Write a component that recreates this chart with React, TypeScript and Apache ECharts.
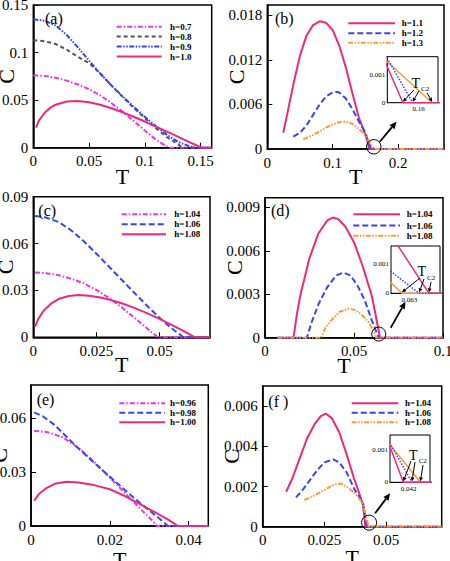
import React, { useEffect, useRef } from "react";
import * as echarts from "echarts";

// ---------- colours ----------
const PINK = "#f0287a";
const MAGENTA = "#ee33ee";
const BLUE = "#3344ff";
const GRAY = "#555555";
const ORANGE = "#ff9933";

// ---------- panel (a) ----------
const aXTicks = [0, 0.05, 0.1, 0.15];
const aYTicks = [0, 0.05, 0.1, 0.15];
const aH07 = [[0,0.076],[0.01,0.0755],[0.02,0.0735],[0.03,0.0705],[0.04,0.0665],[0.05,0.0615],[0.06,0.055],[0.07,0.047],[0.08,0.038],[0.09,0.028],[0.1,0.018],[0.11,0.0085],[0.12,0.001],[0.122,0],[0.16,0]];
const aH08 = [[0,0.113],[0.01,0.112],[0.02,0.109],[0.03,0.103],[0.04,0.0955],[0.05,0.089],[0.06,0.078],[0.07,0.0655],[0.08,0.0535],[0.09,0.042],[0.1,0.031],[0.11,0.0205],[0.12,0.011],[0.13,0.0035],[0.1335,0],[0.16,0]];
const aH09 = [[0,0.135],[0.01,0.1335],[0.02,0.1285],[0.03,0.1185],[0.04,0.1055],[0.05,0.0915],[0.06,0.078],[0.07,0.0655],[0.08,0.054],[0.09,0.043],[0.1,0.0325],[0.11,0.0225],[0.12,0.0135],[0.13,0.006],[0.14,0.0015],[0.1455,0],[0.16,0]];
const aH10 = [[0.0025,0.021],[0.005,0.0285],[0.01,0.0365],[0.015,0.0418],[0.02,0.0452],[0.03,0.0485],[0.04,0.049],[0.05,0.0478],[0.06,0.0452],[0.07,0.0415],[0.08,0.0372],[0.09,0.0325],[0.1,0.0275],[0.11,0.0222],[0.12,0.0168],[0.13,0.0113],[0.14,0.0058],[0.15,0.0005],[0.151,0],[0.16,0]];

// ---------- panel (b) ----------
const bXTicks = [0, 0.1, 0.2];
const bYTicks = [0, 0.006, 0.012, 0.018];
const bH11 = [[0.0244,0.0022],[0.03,0.0045],[0.04,0.0088],[0.05,0.0126],[0.06,0.0153],[0.07,0.0167],[0.08,0.0172],[0.09,0.017],[0.1,0.016],[0.11,0.0139],[0.12,0.011],[0.13,0.0075],[0.14,0.0042],[0.15,0.0019],[0.152,0.0013],[0.156,0],[0.27,0]];
const bH12 = [[0.0397,0.00166],[0.05,0.0022],[0.06,0.0032],[0.07,0.0046],[0.08,0.006],[0.09,0.0071],[0.1,0.0076],[0.105,0.0077],[0.11,0.0076],[0.12,0.0068],[0.13,0.0054],[0.14,0.0037],[0.15,0.0022],[0.152,0.0016],[0.1585,0],[0.27,0]];
const bH13 = [[0.055,0.00135],[0.06,0.0015],[0.07,0.0019],[0.08,0.0024],[0.09,0.0029],[0.1,0.0033],[0.11,0.0036],[0.12,0.0037],[0.13,0.0034],[0.14,0.0027],[0.15,0.0018],[0.152,0.00148],[0.1635,0],[0.27,0]];
const bInsetXTicks = [0.16];
const bInsetYTicks = [0, 0.001];

// ---------- panel (c) ----------
const cXTicks = [0, 0.025, 0.05];
const cYTicks = [0, 0.03, 0.06, 0.09];
const cH104 = [[0.0007,0.0415],[0.005,0.041],[0.01,0.0397],[0.015,0.0375],[0.02,0.0345],[0.025,0.0303],[0.03,0.0252],[0.035,0.0192],[0.04,0.0125],[0.045,0.0058],[0.049,0.0005],[0.0495,0],[0.07,0]];
const cH106 = [[0.0007,0.0776],[0.005,0.0767],[0.01,0.0738],[0.015,0.0685],[0.02,0.0615],[0.025,0.0535],[0.03,0.0452],[0.035,0.0368],[0.04,0.0285],[0.045,0.0203],[0.05,0.0125],[0.055,0.0055],[0.0595,0],[0.07,0]];
const cH108 = [[0.0007,0.0069],[0.002,0.0118],[0.004,0.0168],[0.007,0.0215],[0.01,0.0245],[0.014,0.0264],[0.018,0.027],[0.022,0.0266],[0.026,0.0256],[0.03,0.0242],[0.035,0.0218],[0.04,0.0188],[0.045,0.0155],[0.05,0.0118],[0.055,0.0078],[0.06,0.0037],[0.064,0],[0.07,0]];

// ---------- panel (d) ----------
const dXTicks = [0, 0.05, 0.1];
const dYTicks = [0, 0.003, 0.006, 0.009];
const dH104 = [[0.007,0],[0.016,0],[0.018,0.0017],[0.02,0.003],[0.025,0.0055],[0.03,0.0072],[0.035,0.0081],[0.038,0.0083],[0.041,0.0082],[0.045,0.0077],[0.05,0.0066],[0.055,0.0049],[0.06,0.0029],[0.0621,0.0016],[0.0646,0],[0.1,0]];
const dH106 = [[0.007,0],[0.0235,0],[0.026,0.001],[0.03,0.0023],[0.035,0.0035],[0.04,0.0043],[0.044,0.0045],[0.048,0.0043],[0.052,0.0036],[0.056,0.0026],[0.06,0.0012],[0.0615,0.00074],[0.0638,0],[0.1,0]];
const dH108 = [[0.007,0],[0.0316,0],[0.034,0.0007],[0.038,0.0013],[0.042,0.0018],[0.047,0.002],[0.051,0.0019],[0.055,0.0015],[0.058,0.0011],[0.0615,0.00036],[0.0624,0],[0.1,0]];
const dInsetXTicks = [0.063];
const dInsetYTicks = [0, 0.001];

// ---------- panel (e) ----------
const eXTicks = [0, 0.02, 0.04];
const eYTicks = [0, 0.03, 0.06];
const eH096 = [[0.0008,0.053],[0.004,0.0524],[0.008,0.0495],[0.012,0.0437],[0.016,0.0358],[0.02,0.027],[0.024,0.018],[0.028,0.009],[0.031,0.0025],[0.032,0],[0.045,0]];
const eH098 = [[0.0008,0.0633],[0.003,0.0612],[0.006,0.0563],[0.009,0.0498],[0.012,0.0433],[0.016,0.0353],[0.02,0.0275],[0.024,0.0197],[0.028,0.0122],[0.032,0.0052],[0.0348,0],[0.045,0]];
const eH100 = [[0.0008,0.0141],[0.002,0.0178],[0.004,0.0213],[0.006,0.0235],[0.009,0.0247],[0.012,0.0243],[0.016,0.0228],[0.02,0.0205],[0.024,0.0165],[0.028,0.0118],[0.032,0.007],[0.035,0.0033],[0.0373,0],[0.045,0]];

// ---------- panel (f) ----------
const fXTicks = [0, 0.025, 0.05];
const fYTicks = [0, 0.002, 0.004, 0.006];
const fH104 = [[0.0095,0.00174],[0.012,0.0024],[0.015,0.0034],[0.018,0.0044],[0.021,0.0051],[0.0235,0.0055],[0.0255,0.00563],[0.028,0.0054],[0.031,0.0047],[0.034,0.0036],[0.037,0.0024],[0.039,0.0017],[0.0406,0.0011],[0.0416,0],[0.0725,0]];
const fH106 = [[0.0135,0.00146],[0.016,0.0018],[0.019,0.0023],[0.022,0.0028],[0.025,0.0032],[0.0285,0.00335],[0.031,0.0032],[0.034,0.0027],[0.037,0.0019],[0.0406,0.0012],[0.04225,0],[0.0725,0]];
const fH108 = [[0.0169,0.00133],[0.02,0.0015],[0.023,0.0017],[0.026,0.0019],[0.029,0.0021],[0.0315,0.00215],[0.034,0.002],[0.037,0.0017],[0.0406,0.00116],[0.04288,0],[0.0725,0]];
const fInsetXTicks = [0.042];
const fInsetYTicks = [0, 0.001];

// zero-crossing points marked by the T_C2 arrows in the insets
const bZeros = [0.156, 0.1585, 0.1635];
const dZeros = [0.0624, 0.0638, 0.0646];
const fZeros = [0.0416, 0.04225, 0.04288];
// circled points in main panels
const bCircle = [0.1627, 0.0003];
const dCircle = [0.0639, 0.00025];
const fCircle = [0.0431, 0.0002];

const SERIF = "Liberation Serif";

const DASHDOT = [5, 2, 1.5, 2];
const DASH = [4, 3];
const LONGDASH = [6, 3];
const DASHDOTDOT = [5, 1.5, 1.5, 1.5, 1.5, 1.5];
const DOT = [1.5, 1.5];

export default function App() {
  const ref = useRef<HTMLDivElement>(null);
  useEffect(() => {
    const chart = echarts.init(ref.current!, null, { renderer: "svg" });

    const grids = [
      { left: 33.3, top: 5, width: 178.4, height: 142.7 },
      { left: 267.3, top: 5, width: 176.7, height: 144 },
      { left: 33.3, top: 196.7, width: 176.7, height: 140.6 },
      { left: 265, top: 197.7, width: 178, height: 140 },
      { left: 31, top: 385, width: 177.3, height: 141 },
      { left: 262.7, top: 386, width: 179, height: 140.7 },
      { left: 387.3, top: 56.7, width: 50.7, height: 46 },
      { left: 391, top: 246, width: 49, height: 47.3 },
      { left: 390, top: 435, width: 40, height: 47.3 },
    ];

    const mainX = (g: number, min: number, max: number, ticks: number[], gap: number, extra: any = {}) => ({
      type: "value", gridIndex: g, min, max,
      axisLine: { show: true, onZero: false, lineStyle: { color: "#000", width: 1.5 } },
      axisTick: { show: true, inside: true, length: 5, customValues: ticks, lineStyle: { color: "#000", width: 1 } },
      axisLabel: { customValues: ticks, fontFamily: SERIF, fontSize: 15, color: "#000", margin: 6, ...(extra.label || {}) },
      splitLine: { show: false },
      name: "T", nameLocation: "middle", nameGap: gap, nameMoveOverlap: false,
      nameTextStyle: { fontFamily: SERIF, fontSize: 22, color: "#000", ...(extra.name || {}) },
    });
    const mainY = (g: number, min: number, max: number, ticks: number[], gap: number) => ({
      type: "value", gridIndex: g, min, max,
      axisLine: { show: true, onZero: false, lineStyle: { color: "#000", width: 1.5 } },
      axisTick: { show: true, inside: true, length: 5, customValues: ticks, lineStyle: { color: "#000", width: 1 } },
      axisLabel: { customValues: ticks, fontFamily: SERIF, fontSize: 15, color: "#000", margin: 5 },
      splitLine: { show: false },
      name: "C", nameLocation: "middle", nameGap: gap, nameRotate: 90, nameMoveOverlap: false,
      nameTextStyle: { fontFamily: SERIF, fontSize: 22, color: "#000" },
    });
    const insX = (g: number, min: number, max: number, ticks: number[]) => ({
      type: "value", gridIndex: g, min, max,
      axisLine: { show: true, onZero: false, lineStyle: { color: "#000", width: 1 } },
      axisTick: { show: true, inside: true, length: 3, customValues: ticks, lineStyle: { color: "#000", width: 0.8 } },
      axisLabel: { customValues: ticks, fontFamily: SERIF, fontSize: 7, color: "#000", margin: 3 },
      splitLine: { show: false },
    });
    const insY = (g: number, min: number, max: number, ticks: number[]) => ({
      type: "value", gridIndex: g, min, max,
      axisLine: { show: true, onZero: false, lineStyle: { color: "#000", width: 1 } },
      axisTick: { show: true, inside: true, length: 3, customValues: ticks, lineStyle: { color: "#000", width: 0.8 } },
      axisLabel: { customValues: ticks, fontFamily: SERIF, fontSize: 7, color: "#000", margin: 2 },
      splitLine: { show: false },
    });

    const line = (name: string, g: number, data: number[][], color: string, type: any, width = 2) => ({
      type: "line", name, xAxisIndex: g, yAxisIndex: g, data,
      showSymbol: false, symbol: "none", silent: true,
      lineStyle: { color, width, type },
      z: 3,
    });

    const option: any = {
      animation: false,
      textStyle: { fontFamily: SERIF },
      grid: grids.map((g, i) => ({
        ...g, containLabel: false, outerBoundsMode: "none", show: true,
        borderColor: "#000", borderWidth: i < 6 ? 1.5 : 1,
        backgroundColor: i < 6 ? "transparent" : "#fff",
        z: i < 6 ? 0 : 5,
      })),
      xAxis: [
        mainX(0, 0, 0.16, aXTicks, 18),
        mainX(1, 0, 0.27, bXTicks, 16),
        mainX(2, 0, 0.07, cXTicks, 16),
        mainX(3, 0, 0.1, dXTicks, 20, { label: { lineHeight: 12, margin: 7.5 }, name: { lineHeight: 16, padding: [0, 20, 0, 0] } }),
        mainX(4, 0, 0.045, eXTicks, 22),
        mainX(5, 0, 0.0725, fXTicks, 20),
        insX(6, 0.152, 0.165, bInsetXTicks),
        insX(7, 0.0615, 0.0655, dInsetXTicks),
        insX(8, 0.0406, 0.0436, fInsetXTicks),
      ],
      yAxis: [
        mainY(0, 0, 0.15, aYTicks, 16),
        mainY(1, 0, 0.0194, bYTicks, 19.5),
        mainY(2, 0, 0.09, cYTicks, 17),
        mainY(3, 0, 0.00967, dYTicks, 19.7),
        mainY(4, 0, 0.0786, eYTicks, 20.5),
        mainY(5, 0, 0.007, fYTicks, 20.4),
        insY(6, 0, 0.00166, bInsetYTicks),
        insY(7, 0, 0.00161, dInsetYTicks),
        insY(8, 0, 0.00146, fInsetYTicks),
      ],
      series: [
        line("a h=0.7", 0, aH07, MAGENTA, DASHDOT),
        line("a h=0.8", 0, aH08, GRAY, DASH),
        line("a h=0.9", 0, aH09, BLUE, DASHDOTDOT),
        line("a h=1.0", 0, aH10, PINK, "solid"),
        line("b h=1.1", 1, bH11, PINK, "solid"),
        line("b h=1.2", 1, bH12, BLUE, LONGDASH),
        line("b h=1.3", 1, bH13, ORANGE, DASHDOTDOT),
        line("c h=1.04", 2, cH104, MAGENTA, DASHDOT),
        line("c h=1.06", 2, cH106, BLUE, LONGDASH),
        line("c h=1.08", 2, cH108, PINK, "solid"),
        line("d h=1.04", 3, dH104, PINK, "solid"),
        line("d h=1.06", 3, dH106, BLUE, LONGDASH),
        line("d h=1.08", 3, dH108, ORANGE, DASHDOTDOT),
        line("e h=0.96", 4, eH096, MAGENTA, DASHDOT),
        line("e h=0.98", 4, eH098, BLUE, LONGDASH),
        line("e h=1.00", 4, eH100, PINK, "solid"),
        line("f h=1.04", 5, fH104, PINK, "solid"),
        line("f h=1.06", 5, fH106, BLUE, LONGDASH),
        line("f h=1.08", 5, fH108, ORANGE, DASHDOTDOT),
        { ...line("bi h=1.3", 6, bH13, ORANGE, "solid", 1.5), z: 6 },
        { ...line("bi h=1.2", 6, bH12, BLUE, DOT, 1.5), z: 6 },
        { ...line("bi h=1.1", 6, bH11, PINK, "solid", 1.5), z: 6 },
        { ...line("di h=1.08", 7, dH108, ORANGE, "solid", 1.5), z: 6 },
        { ...line("di h=1.06", 7, dH106, BLUE, DOT, 1.5), z: 6 },
        { ...line("di h=1.04", 7, dH104, PINK, "solid", 1.5), z: 6 },
        { ...line("fi h=1.08", 8, fH108, ORANGE, "solid", 1.5), z: 6 },
        { ...line("fi h=1.06", 8, fH106, BLUE, DOT, 1.5), z: 6 },
        { ...line("fi h=1.04", 8, fH104, PINK, "solid", 1.5), z: 6 },
      ],
    };
    chart.setOption(option);

    // ---------- annotations ----------
    const g: any[] = [];
    const legendItem = (x1: number, x2: number, tx: number, y: number, color: string, dash: any, label: string) => {
      g.push({ type: "line", z: 10, shape: { x1, y1: y, x2, y2: y }, style: { stroke: color, lineWidth: 2, lineDash: dash } });
      g.push({ type: "text", z: 10, style: { text: label, x: tx, y, fill: "#000", fontFamily: SERIF, fontSize: 9, fontWeight: "bold", verticalAlign: "middle", align: "left" } });
    };
    legendItem(116.7, 161.7, 170, 26.7, MAGENTA, DASHDOT, "h=0.7");
    legendItem(116.7, 161.7, 170, 36.5, GRAY, DASH, "h=0.8");
    legendItem(116.7, 161.7, 170, 46.5, BLUE, DASHDOTDOT, "h=0.9");
    legendItem(116.7, 161.7, 170, 56.5, PINK, null, "h=1.0");

    legendItem(348.3, 395, 401.7, 23.3, PINK, null, "h=1.1");
    legendItem(348.3, 395, 401.7, 33.3, BLUE, LONGDASH, "h=1.2");
    legendItem(348.3, 395, 401.7, 42.7, ORANGE, DASHDOTDOT, "h=1.3");

    legendItem(121.7, 166, 174.3, 214.3, MAGENTA, DASHDOT, "h=1.04");
    legendItem(121.7, 166, 174.3, 224.3, BLUE, LONGDASH, "h=1.06");
    legendItem(121.7, 166, 174.3, 234.3, PINK, null, "h=1.08");

    legendItem(353.3, 400, 406.7, 214.3, PINK, null, "h=1.04");
    legendItem(353.3, 400, 406.7, 225.5, BLUE, LONGDASH, "h=1.06");
    legendItem(353.3, 400, 406.7, 235.7, ORANGE, DASHDOTDOT, "h=1.08");

    legendItem(119.3, 165, 170, 403.3, MAGENTA, DASHDOT, "h=0.96");
    legendItem(119.3, 165, 170, 412.7, BLUE, LONGDASH, "h=0.98");
    legendItem(119.3, 165, 170, 422.3, PINK, null, "h=1.00");

    legendItem(351.7, 398.3, 405, 403.3, PINK, null, "h=1.04");
    legendItem(351.7, 398.3, 405, 412.7, BLUE, LONGDASH, "h=1.06");
    legendItem(351.7, 398.3, 405, 422.3, ORANGE, DASHDOTDOT, "h=1.08");

    const panelLabel = (x: number, y: number, t: string) =>
      g.push({ type: "text", z: 10, style: { text: t, x, y, fill: "#000", fontFamily: SERIF, fontSize: 16, verticalAlign: "middle", align: "left" } });
    panelLabel(45, 18, "(a)");
    panelLabel(275, 18.3, "(b)");
    panelLabel(38.3, 210.7, "(c)");
    panelLabel(271, 210, "(d)");
    panelLabel(36.7, 399, "(e)");
    panelLabel(268.3, 401, "(f )");

    const arrow = (x1: number, y1: number, x2: number, y2: number, lw: number, hl: number, hw: number) => {
      const dx = x2 - x1, dy = y2 - y1;
      const L = Math.hypot(dx, dy) || 1;
      const ux = dx / L, uy = dy / L;
      const bx = x2 - ux * hl, by = y2 - uy * hl;
      g.push({ type: "line", z: 12, shape: { x1, y1, x2: bx, y2: by }, style: { stroke: "#000", lineWidth: lw } });
      g.push({ type: "polygon", z: 12, shape: { points: [[x2, y2], [bx - uy * hw, by + ux * hw], [bx + uy * hw, by - ux * hw]] }, style: { fill: "#000" } });
    };
    const px = (gi: number, p: number[]) => chart.convertToPixel({ gridIndex: gi } as any, p) as unknown as number[];

    const bigAnnot = (gi: number, c: number[], r: number, off1: number[], off2: number[]) => {
      const p = px(gi, c);
      g.push({ type: "circle", z: 11, shape: { cx: p[0], cy: p[1], r }, style: { fill: "none", stroke: "#000", lineWidth: 1 } });
      arrow(p[0] + off1[0], p[1] + off1[1], p[0] + off2[0], p[1] + off2[1], 1.8, 7, 3.2);
    };
    bigAnnot(1, bCircle, 7.2, [6, -5], [22.7, -25]);
    bigAnnot(3, dCircle, 7, [12, -6.3], [26.7, -32.3]);
    bigAnnot(5, fCircle, 7.5, [6, -9.4], [21, -29.4]);

    const tc2 = (tx: number, ty: number, gi: number, zeros: number[], starts: number[][]) => {
      g.push({ type: "text", z: 12, style: { text: "T", x: tx, y: ty, fill: "#000", fontFamily: SERIF, fontSize: 14, align: "center", verticalAlign: "middle" } });
      g.push({ type: "text", z: 12, style: { text: "C2", x: tx + 9.5, y: ty + 6, fill: "#000", fontFamily: SERIF, fontSize: 7, align: "center", verticalAlign: "middle" } });
      zeros.forEach((z, i) => {
        const p = px(gi, [z, 0]);
        arrow(starts[i][0], starts[i][1], p[0], p[1] - 1, 1, 4, 2);
      });
    };
    tc2(415.7, 83.3, 6, bZeros, [[414, 90], [419, 91], [427, 93]]);
    tc2(421.7, 271.7, 7, dZeros, [[420, 278], [424, 279], [431, 282]]);
    tc2(413.3, 455, 8, fZeros, [[411, 461], [415, 462], [423, 465]]);

    chart.setOption({ graphic: g });
    return () => chart.dispose();
  }, []);
  return <div ref={ref} style={{ position: "absolute", left: 0, top: 0, width: 450, height: 561, background: "#fff" }} />;
}
